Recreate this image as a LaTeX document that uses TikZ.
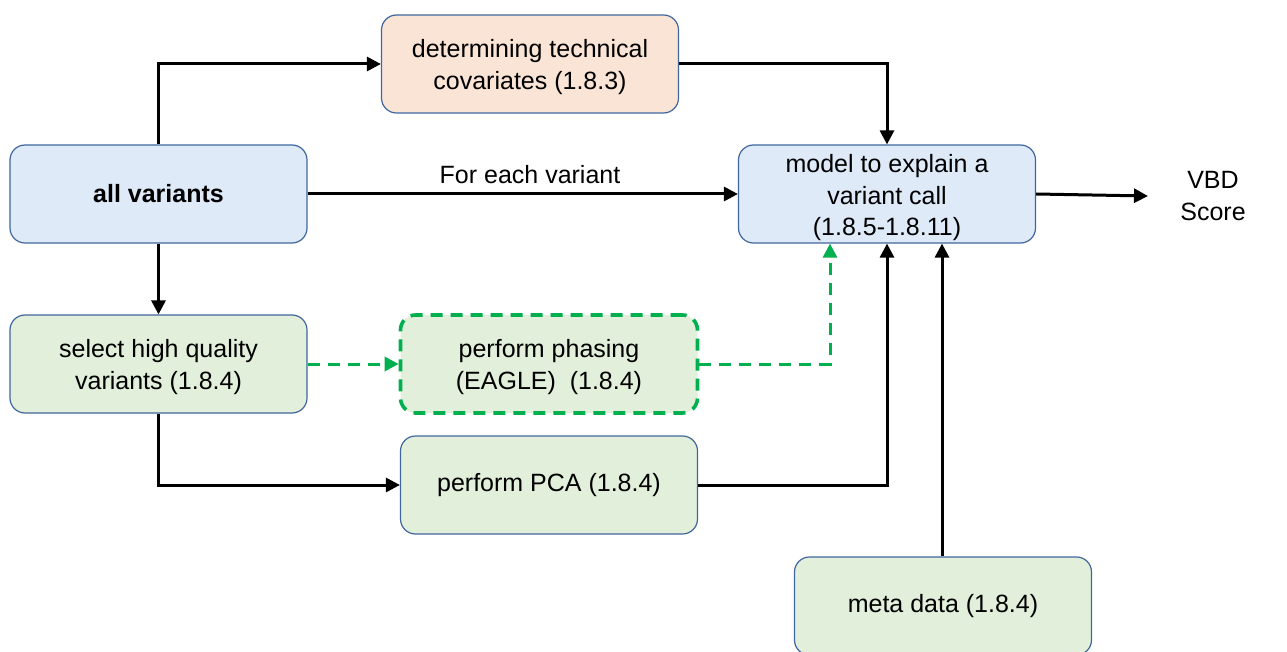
\documentclass[tikz,border=0pt]{standalone}
\usepackage{fontspec}
\setmainfont{Liberation Sans}
\usetikzlibrary{arrows.meta}
\definecolor{bordblue}{HTML}{41669E}
\definecolor{fillblue}{HTML}{DEEAF7}
\definecolor{fillpeach}{HTML}{FAE4D6}
\definecolor{fillgreen}{HTML}{E2EFDA}
\definecolor{dgreen}{HTML}{00B04F}
\newcommand{\lowr}[2]{\raisebox{-#1}[\height][\depth]{\begin{tabular}{@{}c@{}}#2\end{tabular}}}
\tikzset{
  box/.style={draw=bordblue, line width=1.2pt, rounded corners=15pt, minimum width=297pt, minimum height=98pt, align=center, inner sep=0pt, font=\fontsize{25}{31.5}\selectfont},
  conn/.style={line width=3pt, -{Triangle[length=14pt,width=14pt]}},
  gconn/.style={draw=dgreen, line width=3pt, dash pattern=on 12pt off 8pt, -{Triangle[length=14pt,width=14pt]}, color=dgreen},
  lbl/.style={font=\fontsize{25}{31.5}\selectfont, align=center, inner sep=0pt}
}
\begin{document}
\begin{tikzpicture}[x=1pt,y=-1pt]
\useasboundingbox (0,0) rectangle (1287,652);
\node[box, fill=fillpeach] (det) at (530,64) {\lowr{3pt}{determining technical\\covariates (1.8.3)}};
\node[box, fill=fillblue] (all) at (158.5,194) {\textbf{all variants}};
\node[box, fill=fillblue] (model) at (887,194) {\lowr{4pt}{model to explain a\\variant call\\(1.8.5-1.8.11)}};
\node[box, fill=fillgreen] (sel) at (158.5,364) {\lowr{3pt}{select high quality\\variants (1.8.4)}};
\node[box, fill=fillgreen, draw=dgreen, line width=3.6pt, dash pattern=on 12pt off 8pt] (phase) at (549,364) {\lowr{3pt}{perform phasing\\(EAGLE)\ \ (1.8.4)}};
\node[box, fill=fillgreen] (pca) at (549,485) {perform PCA (1.8.4)};
\node[box, fill=fillgreen] (meta) at (943,606) {meta data (1.8.4)};
\node[lbl] (vbd) at (1213,196) {VBD\\Score};
\coordinate (vbdin) at (1148,196);
\node[lbl] (fev) at (530,175) {For each variant};

\draw[conn] (all.north) |- (det.west);
\draw[conn] (det.east) -| (model.north);
\draw[conn] (all.east) -- (model.west);
\draw[conn] (model.east) -- (vbdin);
\draw[conn] (all.south) -- (sel.north);
\draw[conn] (sel.south) |- (pca.west);
\draw[conn] (pca.east) -| (model.south);
\draw[conn] (meta.north -| 942,0) -- (model.south -| 942,0);
\draw[gconn] (sel.east) -- (phase.west);
\draw[gconn] (phase.east) -| ([xshift=-57pt]model.south);
\end{tikzpicture}
\end{document}
